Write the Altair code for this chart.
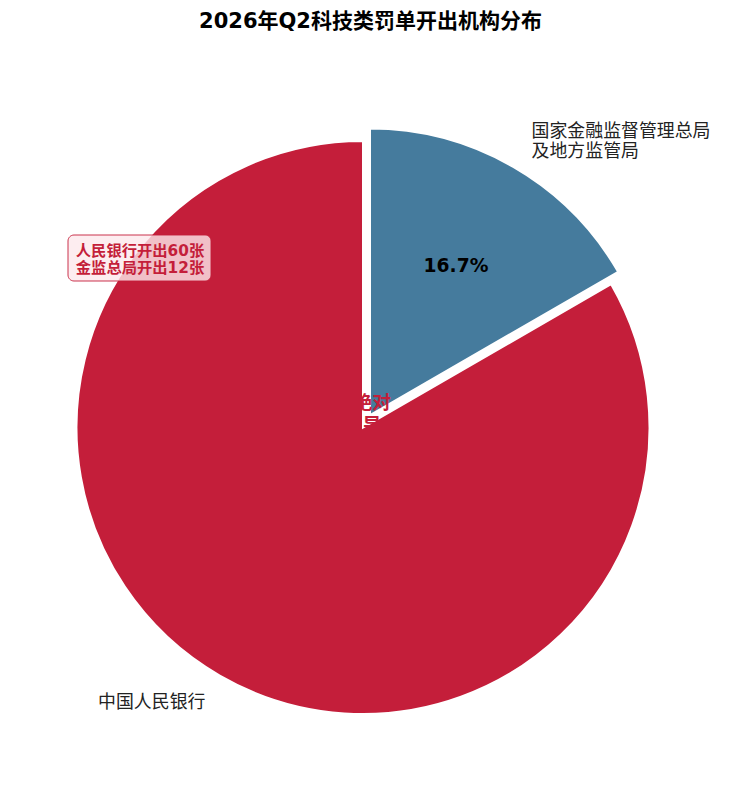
import altair as alt
import pandas as pd

# ---- data ----
orgs = ["国家金融监督管理总局\n及地方监管局", "中国人民银行"]
keys = ["nfra", "pboc"]
counts = [12, 60]
order = [0, 1]
colors = ["#457B9D", "#C41E3A"]

title_text = "2026年Q2科技类罚单开出机构分布"
note_text = "人民银行开出60张\n金监总局开出12张"
center_text = "占绝对\n主导"

df = pd.DataFrame({"org": orgs, "key": keys, "count": counts, "order": order})

FONT = "DejaVu Sans, Noto Sans CJK SC"
R = 286.5
CX, CY = 355, 379.5        # pie centre inside the plot area
EX, EY = 7, -12.4          # explode offset of the small slice

color_scale = alt.Scale(domain=keys, range=colors)

base = (
    alt.Chart(df)
    .transform_joinaggregate(total="sum(count)")
    .transform_window(cum="sum(count)", sort=[alt.SortField("order")])
    .transform_calculate(
        start="(datum.cum - datum.count) / datum.total * 2 * PI",
        end="datum.cum / datum.total * 2 * PI",
    )
    .transform_calculate(
        mid="(datum.start + datum.end) / 2",
        pct="format(datum.count / datum.total, '.1%')",
    )
)

theta = alt.Theta("start:Q", scale=None, stack=None)
theta2 = alt.Theta2("end:Q")
fill = alt.Color("key:N", scale=color_scale, legend=None)

red_arc = base.transform_filter("datum.key == 'pboc'").mark_arc(
    radius=R, stroke="white", strokeWidth=2
).encode(theta=theta, theta2=theta2, color=fill,
         x=alt.value(CX), y=alt.value(CY))

blue_arc = base.transform_filter("datum.key == 'nfra'").mark_arc(
    radius=R, stroke="white", strokeWidth=2
).encode(theta=theta, theta2=theta2, color=fill,
         x=alt.value(CX + EX), y=alt.value(CY + EY))

mid_theta = alt.Theta("mid:Q", scale=None, stack=None)

pct_label = base.transform_filter("datum.key == 'nfra'").mark_text(
    radius=0.6 * R, font=FONT, fontSize=18.7, fontWeight="bold",
    color="black", baseline="middle", align="center"
).encode(theta=mid_theta, text="pct:N",
         x=alt.value(CX + EX), y=alt.value(CY + EY))

blue_label = base.transform_filter("datum.key == 'nfra'").mark_text(
    radius=1.1 * R, font=FONT, fontSize=17.9, color="#222222",
    align="left", baseline="middle", lineBreak="\n", lineHeight=20, dy=-10
).encode(theta=mid_theta, text="org:N",
         x=alt.value(CX + EX + 4), y=alt.value(CY + EY))

red_label = base.transform_filter("datum.key == 'pboc'").mark_text(
    radius=1.1 * R, font=FONT, fontSize=17.9, color="#222222",
    align="right", baseline="middle"
).encode(theta=mid_theta, text="org:N",
         x=alt.value(CX), y=alt.value(CY + 3))

center = alt.Chart(pd.DataFrame({"t": [center_text]})).mark_text(
    font=FONT, fontSize=18.7, fontWeight="bold", color="#C41E3A",
    align="center", baseline="middle", lineBreak="\n", lineHeight=22
).encode(text="t:N", x=alt.value(CX), y=alt.value(CY - 25))

note_df = pd.DataFrame({"t": [note_text]})
note_box = alt.Chart(note_df).mark_rect(
    cornerRadius=6, fill="#FDE8EC", fillOpacity=0.8,
    stroke="#C41E3A", strokeWidth=1, strokeOpacity=0.9
).encode(x=alt.value(60), x2=alt.value(203), y=alt.value(187), y2=alt.value(233))

note = alt.Chart(note_df).mark_text(
    font=FONT, fontSize=15.3, fontWeight="bold", color="#C41E3A",
    align="center", baseline="middle", lineBreak="\n", lineHeight=17
).encode(text="t:N", x=alt.value(132), y=alt.value(203))

chart = alt.layer(
    red_arc, blue_arc, center, pct_label, blue_label, red_label, note_box, note
).properties(
    width=725,
    height=730,
    title=alt.TitleParams(
        text=title_text, font=FONT, fontSize=21, fontWeight="bold",
        anchor="middle", color="black", offset=16
    ),
    padding={"left": 0, "right": 0, "top": 40, "bottom": 0},
    autosize=alt.AutoSizeParams(type="none"),
    background="white",
).configure_view(stroke=None)

chart.save("out.html", embed_options={"renderer": "svg", "actions": False})
